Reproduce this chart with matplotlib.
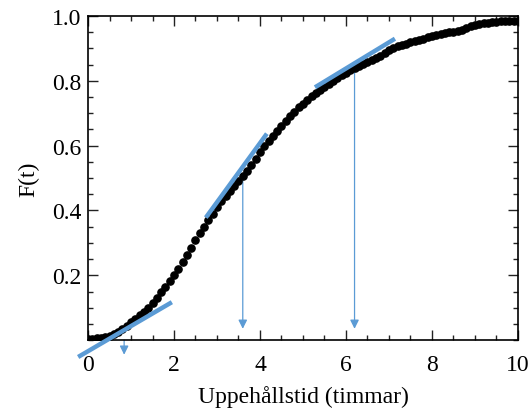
import numpy as np
import matplotlib
matplotlib.use("Agg")
from matplotlib import pyplot as plt
from matplotlib.ticker import MultipleLocator

# uppehållstid (h) and F(t)
t = [0.0, 0.1, 0.2, 0.3, 0.4, 0.5, 0.6, 0.7, 0.8, 0.9,
     1.0, 1.1, 1.2, 1.3, 1.4, 1.5, 1.6, 1.7, 1.8, 1.9,
     2.0, 2.1, 2.2, 2.3, 2.4, 2.5, 2.6, 2.7, 2.8, 2.9,
     3.0, 3.1, 3.2, 3.3, 3.4, 3.5, 3.6, 3.7, 3.8, 3.9,
     4.0, 4.1, 4.2, 4.3, 4.4, 4.5, 4.6, 4.7, 4.8, 4.9,
     5.0, 5.1, 5.2, 5.3, 5.4, 5.5, 5.6, 5.7, 5.8, 5.9,
     6.0, 6.1, 6.2, 6.3, 6.4, 6.5, 6.6, 6.7, 6.8, 6.9,
     7.0, 7.1, 7.2, 7.3, 7.4, 7.5, 7.6, 7.7, 7.8, 7.9,
     8.0, 8.1, 8.2, 8.3, 8.4, 8.5, 8.6, 8.7, 8.8, 8.9,
     9.0, 9.1, 9.2, 9.3, 9.4, 9.5, 9.6, 9.7, 9.8, 9.9, 10.0]
F = [0.004, 0.004, 0.005, 0.006, 0.009, 0.013, 0.019, 0.026, 0.034, 0.045,
     0.056, 0.066, 0.076, 0.087, 0.098, 0.113, 0.130, 0.148, 0.165, 0.182,
     0.200, 0.220, 0.240, 0.262, 0.285, 0.308, 0.330, 0.350, 0.370, 0.390,
     0.410, 0.428, 0.445, 0.460, 0.475, 0.490, 0.505, 0.522, 0.540, 0.560,
     0.580, 0.598, 0.615, 0.630, 0.645, 0.660, 0.675, 0.690, 0.705, 0.718,
     0.730, 0.741, 0.752, 0.762, 0.772, 0.781, 0.790, 0.799, 0.808, 0.817,
     0.825, 0.833, 0.840, 0.847, 0.853, 0.859, 0.865, 0.871, 0.878, 0.887,
     0.895, 0.901, 0.906, 0.911, 0.915, 0.919, 0.923, 0.927, 0.930, 0.934,
     0.937, 0.941, 0.944, 0.947, 0.950, 0.952, 0.955, 0.958, 0.962, 0.968,
     0.972, 0.975, 0.977, 0.979, 0.980, 0.982, 0.984, 0.985, 0.985, 0.985, 0.985]

# tangent lines (x0, x1), (y0, y1)
tangent_x = [(-0.23, 1.95), (2.74, 4.16), (5.28, 7.14)]
tangent_y = [(-0.052, 0.117), (0.378, 0.637), (0.78, 0.93)]

# arrows: x, start y, end y
arrow_x = [0.84, 3.6, 6.2]
arrow_top = [0.0, 0.50, 0.843]
arrow_end = [-0.045, 0.035, 0.035]

blue = '#5b9bd5'

plt.rcParams['font.family'] = ['Liberation Serif', 'DejaVu Serif']

fig = plt.figure(figsize=(5.29, 4.10), dpi=100)
ax = fig.add_axes([0.1664, 0.168, 0.8126, 0.7905])

ax.plot(t, F, 'o', color='black', markersize=5.2, zorder=3)

for xs, ys in zip(tangent_x, tangent_y):
    ax.plot(xs, ys, color=blue, linewidth=3.2, solid_capstyle='butt',
            clip_on=False, zorder=4)

for x, y0, y1 in zip(arrow_x, arrow_top, arrow_end):
    ax.annotate('', xy=(x, y1), xytext=(x, y0),
                arrowprops=dict(arrowstyle='-|>', color=blue, lw=0.9,
                                mutation_scale=13, shrinkA=0, shrinkB=0),
                annotation_clip=False, zorder=2)

ax.set_xlim(0, 10)
ax.set_ylim(0, 1.0)
ax.xaxis.set_minor_locator(MultipleLocator(0.5))
ax.yaxis.set_minor_locator(MultipleLocator(0.05))
ax.set_yticks([0.2, 0.4, 0.6, 0.8, 1.0])
ax.set_xticks([0, 2, 4, 6, 8, 10])

ax.tick_params(which='both', direction='in', top=True, right=True,
               labelsize=17, width=1.0, color='#222222')
ax.tick_params(which='major', length=7)
ax.tick_params(which='minor', length=3.5)
ax.tick_params(axis='x', pad=10)
ax.tick_params(axis='y', pad=5)
for s in ax.spines.values():
    s.set_linewidth(1.2)

ax.set_xlabel('Uppehållstid (timmar)', fontsize=17, labelpad=7)
ax.set_ylabel('F(t)', fontsize=17, labelpad=9)

fig.savefig('out.png', dpi=100)
